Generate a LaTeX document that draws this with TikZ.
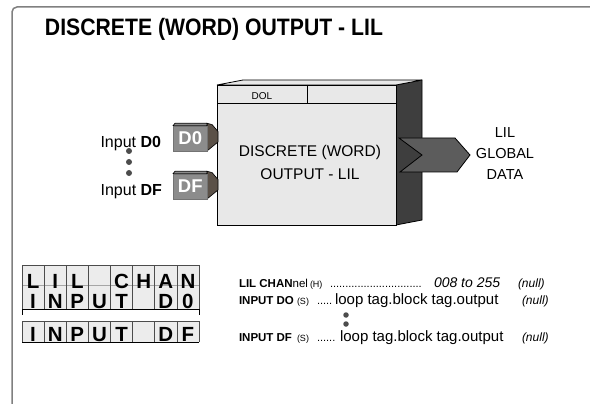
\documentclass[tikz,border=0pt]{standalone}
\usepackage{fontspec}
\setmainfont{Liberation Sans}
\newcommand{\fsz}[1]{\fontsize{#1}{#1}\selectfont}
\definecolor{framegray}{HTML}{808080}
\definecolor{boxface}{HTML}{E8E8E8}
\definecolor{boxside}{HTML}{3E3E3E}
\definecolor{chev}{HTML}{5C5C5C}
\definecolor{inface}{HTML}{8C8C8C}
\definecolor{inside}{HTML}{5B5148}
\definecolor{lcdgray}{HTML}{ECECEC}
\begin{document}
\begin{tikzpicture}[x=1pt,y=-1pt,
  txt/.style={inner sep=0pt, outer sep=0pt},
  dotnode/.style={circle, fill=black!70, minimum size=6pt, inner sep=0pt},
  smalldot/.style={circle, fill=black!70, minimum size=5.5pt, inner sep=0pt},
  lcdchar/.style={inner sep=0pt, anchor=base, font=\fsz{20.5}\bfseries},
  inbox/.style={draw=black!55, line width=0.5pt, fill=inface, minimum width=34pt, minimum height=25.3pt, inner sep=0pt, anchor=north west, text=white, font=\fsz{18.5}\bfseries}
]
\useasboundingbox (0,0) rectangle (590,404);
\fill[white] (0,0) rectangle (590,404);

% frame
\draw[framegray, line width=1.5pt, rounded corners=5pt] (595,7) -- (12,7) -- (12,410);

% title
\node[txt, anchor=base west] (title) at (45,36) {\scalebox{1}[1.12]{\fsz{21.2}\bfseries DISCRETE (WORD) OUTPUT - LIL}};

% main block: side and top faces
\draw[fill=boxside, line width=0.8pt] (396,85) -- (422,80) -- (422,220) -- (396,225) -- cycle;
\draw[fill=boxface, line width=0.8pt] (217,85) -- (243,80) -- (422,80) -- (396,85) -- cycle;
\node[draw, line width=0.8pt, fill=boxface, minimum width=179pt, minimum height=140pt, inner sep=0pt, outer sep=0pt, anchor=north west] (blk) at (217,85) {};
\draw[line width=0.8pt] (217,103) -- (396,103);
\draw[line width=0.8pt] (307,85) -- (307,103);
\node[txt, anchor=base] (dol) at (262,100) {\fsz{10}DOL};
\node[txt, anchor=base] (blktxta) at (310,157) {\fsz{15.5}DISCRETE (WORD)};
\node[txt, anchor=base] (blktxtb) at (310,179) {\fsz{15.5}OUTPUT - LIL};

% output chevron
\draw[fill=chev, line width=0.8pt] (399,138) -- (455,138) -- (470,155) -- (457,172) -- (400,172) -- (422,155) -- cycle;
\node[txt, anchor=base] (globa) at (505,138) {\fsz{14.5}LIL};
\node[txt, anchor=base] (globb) at (505,159) {\fsz{14.5}GLOBAL};
\node[txt, anchor=base] (globc) at (505,179) {\fsz{14.5}DATA};

% input blocks
\foreach \nm/\lbl/\yy in {inA/D0/0, inB/DF/48}{
  \begin{scope}[yshift=-\yy pt]
    \draw[fill=inside, line width=0.6pt] (207,125.7) -- (207,123.3) -- (212,124.5) -- (218,131.5) -- (218,142) -- (207,151) -- cycle;
    \draw[fill=black!45, line width=0.6pt] (173,125.7) -- (175,123.3) -- (207,123.3) -- (207,125.7) -- cycle;
    \node[inbox] (\nm) at (173,125.7) {\raisebox{-3pt}{\lbl}};
  \end{scope}
}
\node[txt, anchor=base east] (labA) at (161,147) {\fsz{16}Input \textbf{D0}};
\node[txt, anchor=base east] (labB) at (162,196) {\fsz{16}Input \textbf{DF}};
\node[dotnode] (da) at (129,151) {};
\node[dotnode] (db) at (129,162) {};
\node[dotnode] (dc) at (129,173) {};

% LCD display 1
\fill[lcdgray] (22,265) rectangle (199,309);
\draw[black!35, line width=0.6pt] (22,285) -- (199,285);
\foreach \i in {0,...,8}{
  \draw[line width=0.6pt, black!70] ({22+22.125*\i},265) -- ({22+22.125*\i},309);
}
\draw[line width=0.6pt, black!70] (22,265) -- (199,265);
\draw[line width=0.8pt] (22,309) -- (199,309);
\draw[line width=0.6pt] (22,309) -- (22,315);
\draw[line width=0.6pt] (199,309) -- (199,315);
\foreach \i/\c in {0/L,1/I,2/L,4/C,5/H,6/A,7/N}{
  \node[lcdchar] (ra\i) at ({33.06+22.125*\i},288) {\c};
}
\foreach \i/\c in {0/I,1/N,2/P,3/U,4/T,6/D,7/0}{
  \node[lcdchar] (rb\i) at ({33.06+22.125*\i},308) {\c};
}

% LCD display 2
\fill[lcdgray] (22,321) rectangle (199,342);
\foreach \i in {0,...,8}{
  \draw[line width=0.6pt, black!70] ({22+22.125*\i},321) -- ({22+22.125*\i},342);
}
\draw[line width=0.6pt, black!70] (22,321) -- (199,321);
\draw[line width=0.8pt] (22,342) -- (199,342);
\foreach \i/\c in {0/I,1/N,2/P,3/U,4/T,6/D,7/F}{
  \node[lcdchar] (rc\i) at ({33.06+22.125*\i},341) {\c};
}

% parameter texts
\node[txt, anchor=base west] (p1a) at (239,287) {\fsz{11.5}\textbf{LIL CHAN}nel};
\node[txt, anchor=base west] (p1b) at (310,287) {\fsz{9}(H)};
\node[txt, anchor=base west] (p1c) at (330,287) {\fsz{11}..............................};
\node[txt, anchor=base west] (p1d) at (434,287) {\fsz{14}\itshape 008 to 255};
\node[txt, anchor=base west] (p1e) at (518,287) {\fsz{12}\itshape (null)};

\node[txt, anchor=base west] (p2a) at (239,304) {\fsz{11.5}\textbf{INPUT DO}};
\node[txt, anchor=base west] (p2b) at (297,304) {\fsz{9}(S)};
\node[txt, anchor=base west] (p2c) at (317,304) {\fsz{11}.....};
\node[txt, anchor=base west] (p2d) at (335,304) {\fsz{15}loop tag.block tag.output};
\node[txt, anchor=base west] (p2e) at (522,304) {\fsz{12}\itshape (null)};

\node[smalldot] (de) at (346,315) {};
\node[smalldot] (df) at (346,324) {};

\node[txt, anchor=base west] (p3a) at (239,341) {\fsz{11.5}\textbf{INPUT DF}};
\node[txt, anchor=base west] (p3b) at (297,341) {\fsz{9}(S)};
\node[txt, anchor=base west] (p3c) at (317,341) {\fsz{11}......};
\node[txt, anchor=base west] (p3d) at (340,341) {\fsz{15}loop tag.block tag.output};
\node[txt, anchor=base west] (p3e) at (522,341) {\fsz{12}\itshape (null)};
\end{tikzpicture}
\end{document}
